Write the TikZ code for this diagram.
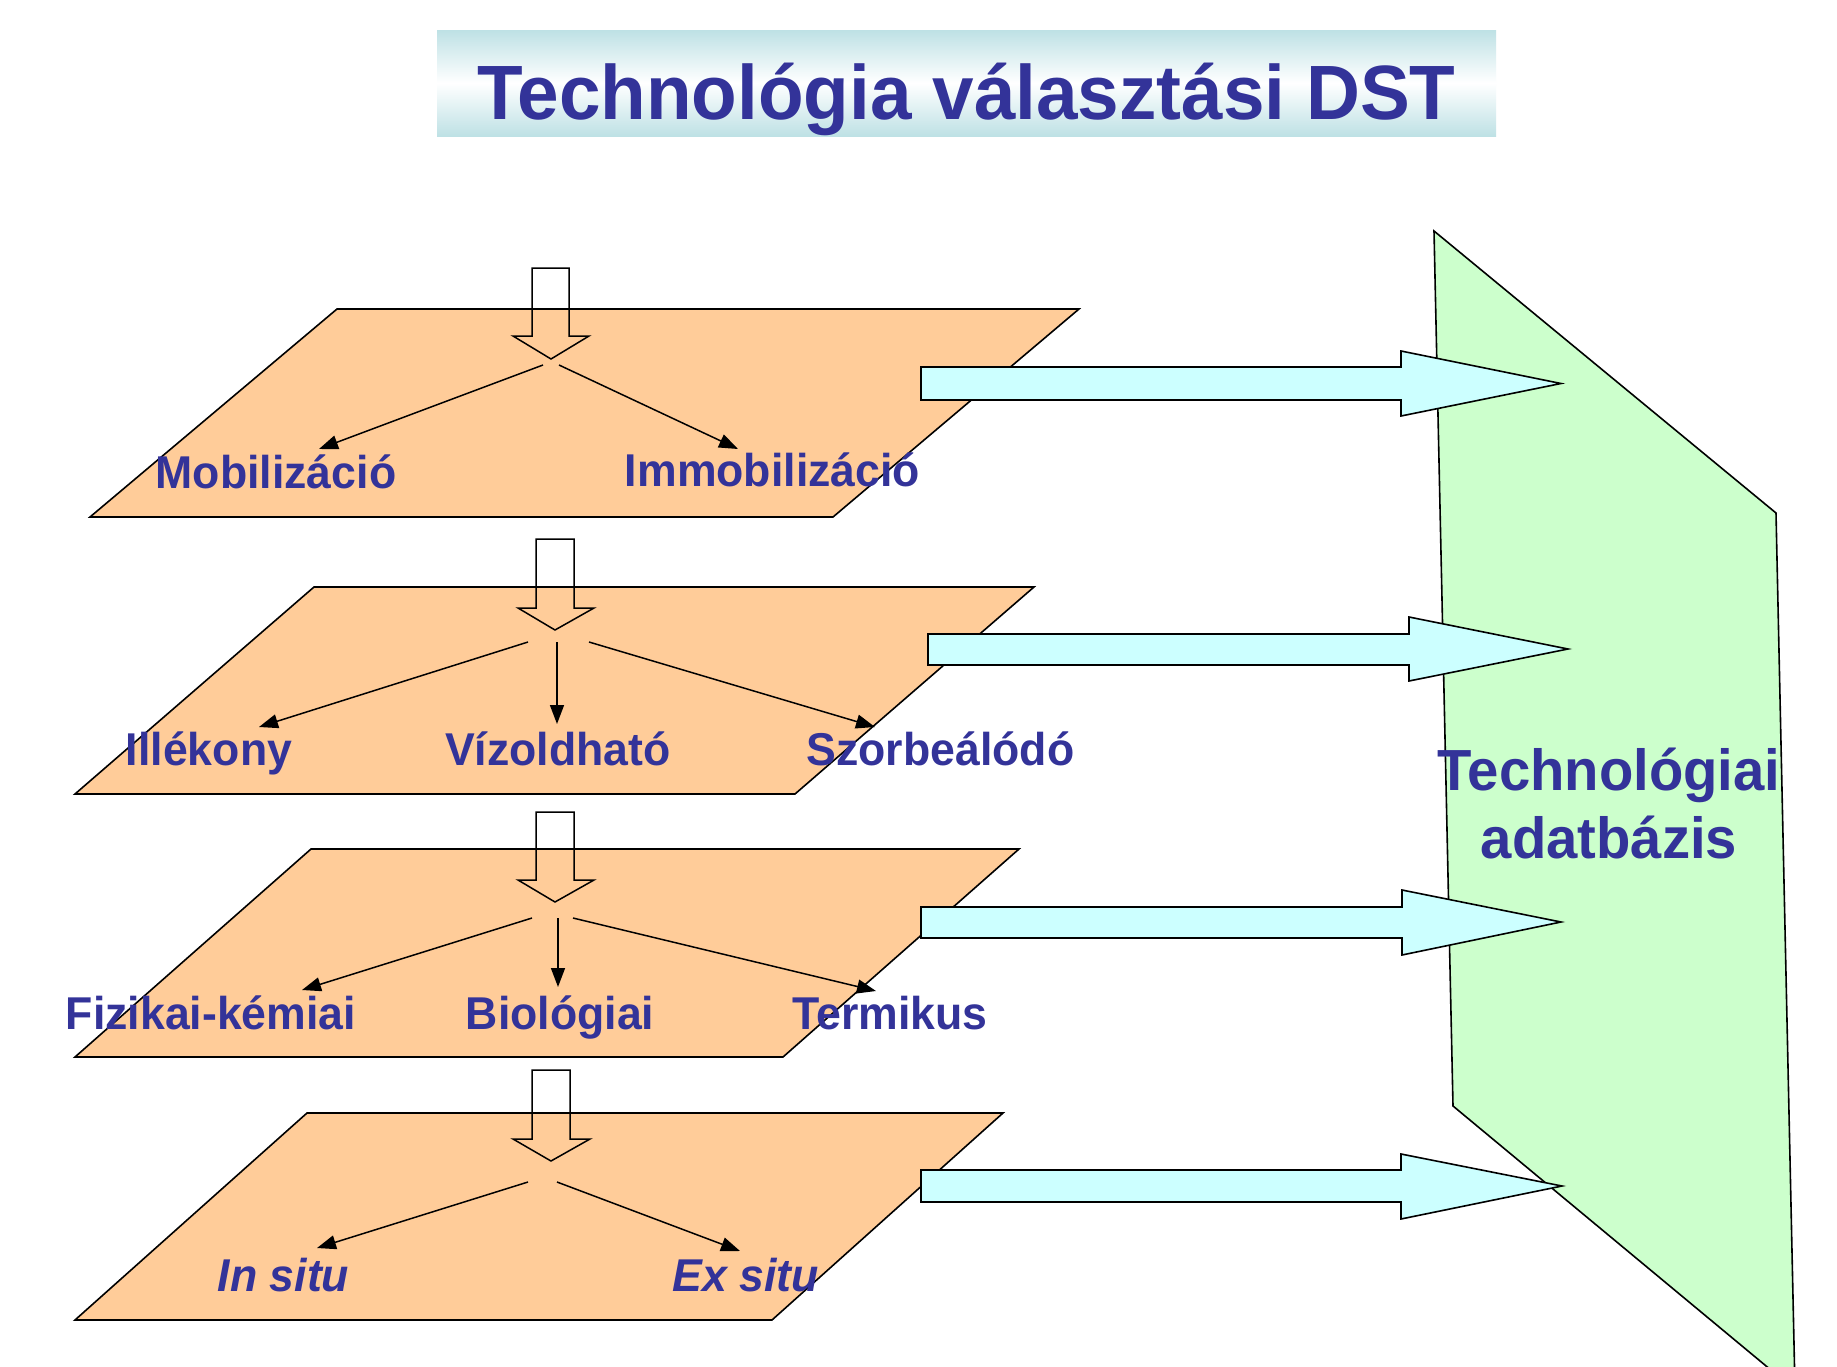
\documentclass[tikz,border=0pt]{standalone}
\usepackage{fontspec}
\setmainfont{Liberation Sans}[FakeStretch=0.97]
\usetikzlibrary{arrows.meta}
\definecolor{txtblue}{RGB}{51,51,153}
\definecolor{peach}{RGB}{255,204,153}
\definecolor{cyanf}{RGB}{204,255,255}
\definecolor{greenf}{RGB}{204,255,204}
\definecolor{tealc}{RGB}{190,225,229}
\tikzset{
  plane/.style={fill=peach,draw=black,line width=1.6pt,line join=miter},
  hollow/.style={draw=black,line width=1.5pt,line join=miter},
  bigarrow/.style={fill=cyanf,draw=black,line width=1.6pt,line join=miter},
  split/.style={draw=black,line width=1.5pt,-{Triangle[length=19pt,width=14pt]}},
  lbl/.style={text=txtblue,font=\fontsize{46}{54}\selectfont\bfseries,inner sep=0pt,anchor=base},
  ilbl/.style={lbl,font=\fontsize{46}{54}\selectfont\bfseries\itshape},
  dblbl/.style={text=txtblue,font=\fontsize{58}{66}\selectfont\bfseries,inner sep=0pt,anchor=base},
  titlelbl/.style={text=txtblue,font=\fontsize{77}{86}\selectfont\bfseries,inner sep=0pt,anchor=base}
}
\begin{document}
\begin{tikzpicture}[x=1pt,y=-1pt]
\useasboundingbox (0,0) rectangle (1837,1366);
\clip (0,0) rectangle (1837,1366);
\fill[white] (0,0) rectangle (1837,1366);
% title
\path[top color=tealc,bottom color=tealc,middle color=white] (437,30) rectangle (1496,136);
\node[titlelbl] (title) at (966.5,119) {Technológia választási DST};
% database shape
\path[fill=greenf,draw=black,line width=1.6pt] (1434,231) -- (1776,513) -- (1795,1390) -- (1453,1106) -- cycle;
% planes
\path[plane] (337,309) -- (1079,309) -- (833,517) -- (90,517) -- cycle;
\path[plane] (314,587) -- (1034,587) -- (795,794) -- (75,794) -- cycle;
\path[plane] (311,849) -- (1019,849) -- (783,1057) -- (75,1057) -- cycle;
\path[plane] (307,1113) -- (1003,1113) -- (772,1320) -- (75,1320) -- cycle;
% hollow down arrows
\path[hollow] (532,268) -- (569,268) -- (569,336) -- (589,336) -- (551,359) -- (513,336) -- (532,336) -- cycle;
\path[hollow] (536,539) -- (574,539) -- (574,608) -- (594,608) -- (555,630) -- (518,608) -- (536,608) -- cycle;
\path[hollow] (536,812) -- (574,812) -- (574,880) -- (594,880) -- (555,902) -- (518,880) -- (536,880) -- cycle;
\path[hollow] (532,1070) -- (570,1070) -- (570,1139) -- (590,1139) -- (551,1161) -- (513,1139) -- (532,1139) -- cycle;
% split arrows
\coordinate (a1s) at (543,365); \coordinate (a1e) at (319,449);
\coordinate (b1s) at (559,365); \coordinate (b1e) at (738,449);
\coordinate (a2s) at (528,642); \coordinate (a2e) at (259,727);
\coordinate (b2s) at (557,642); \coordinate (b2e) at (557,724);
\coordinate (c2s) at (589,642); \coordinate (c2e) at (875,727);
\coordinate (a3s) at (532,918); \coordinate (a3e) at (302,990);
\coordinate (b3s) at (558,918); \coordinate (b3e) at (558,987);
\coordinate (c3s) at (573,918); \coordinate (c3e) at (876,991);
\coordinate (a4s) at (528,1182); \coordinate (a4e) at (317,1248);
\coordinate (b4s) at (557,1182); \coordinate (b4e) at (740,1251);
\draw[split] (a1s) -- (a1e);
\draw[split] (b1s) -- (b1e);
\draw[split] (a2s) -- (a2e);
\draw[split] (b2s) -- (b2e);
\draw[split] (c2s) -- (c2e);
\draw[split] (a3s) -- (a3e);
\draw[split] (b3s) -- (b3e);
\draw[split] (c3s) -- (c3e);
\draw[split] (a4s) -- (a4e);
\draw[split] (b4s) -- (b4e);
% big cyan arrows
\path[bigarrow] (921,367) -- (1401,367) -- (1401,351) -- (1561,383.5) -- (1401,416) -- (1401,400) -- (921,400) -- cycle;
\path[bigarrow] (928,634) -- (1409,634) -- (1409,617) -- (1568,649) -- (1409,681) -- (1409,665) -- (928,665) -- cycle;
\path[bigarrow] (921,907) -- (1402,907) -- (1402,890) -- (1561,922) -- (1402,955) -- (1402,938) -- (921,938) -- cycle;
\path[bigarrow] (921,1170) -- (1401,1170) -- (1401,1154) -- (1562,1186) -- (1401,1219) -- (1401,1202) -- (921,1202) -- cycle;
% labels
\node[lbl] (mob) at (276,488) {Mobilizáció};
\node[lbl] (imm) at (772.5,486) {Immobilizáció};
\node[lbl] (ill) at (209,765) {Illékony};
\node[lbl] (viz) at (558,765) {Vízoldható};
\node[lbl] (szo) at (940.5,765) {Szorbeálódó};
\node[lbl] (fiz) at (211,1029) {Fizikai-kémiai};
\node[lbl] (bio) at (560,1029) {Biológiai};
\node[lbl] (ter) at (890,1029) {Termikus};
\node[ilbl] (ins) at (283.5,1291) {In situ};
\node[ilbl] (exs) at (745.5,1291) {Ex situ};
\node[dblbl] (db1) at (1609,790) {Technológiai};
\node[dblbl] (db2) at (1609,858) {adatbázis};
\end{tikzpicture}
\end{document}
